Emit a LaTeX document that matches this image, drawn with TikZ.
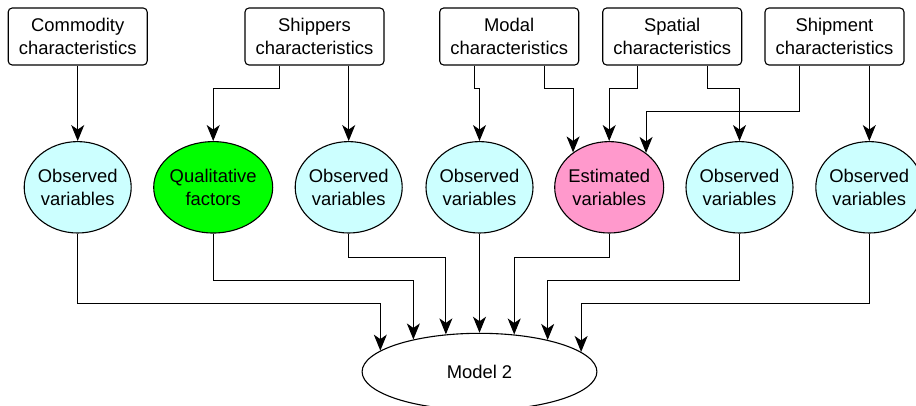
\documentclass[tikz,border=0pt]{standalone}
\usepackage{fontspec}
\setmainfont{Liberation Sans}
\usetikzlibrary{arrows.meta,shapes.geometric}
\definecolor{obscyan}{HTML}{CCFFFF}
\definecolor{qualgreen}{HTML}{00FF00}
\definecolor{estpink}{HTML}{FF99CC}
\begin{document}
\begin{tikzpicture}[x=1pt,y=-1pt,
  txt/.style={font=\fontsize{18.4}{22.6}\selectfont, align=center},
  charbox/.style={draw, rounded corners=4pt, line width=1.1pt, minimum width=139pt, minimum height=57pt, inner sep=0pt, txt},
  varell/.style={draw, ellipse, line width=1.1pt, minimum height=91.4pt, inner sep=0pt},
  obs/.style={varell, fill=obscyan, minimum width=107pt, label={[txt]center:Observed\\variables}},
  conn/.style={line width=1.1pt, -{Stealth[length=16pt,width=13pt,inset=4.5pt]}},
]
\useasboundingbox (0,0) rectangle (916,405);

% top characteristic boxes
\node[charbox] (comm)  at (77.7,36.5)  {Commodity\\characteristics};
\node[charbox] (ship)  at (314.5,36.5) {Shippers\\characteristics};
\node[charbox] (modal) at (509.2,36.5) {Modal\\characteristics};
\node[charbox] (spat)  at (672.2,36.5) {Spatial\\characteristics};
\node[charbox] (shipm) at (834.5,36.5) {Shipment\\characteristics};

% variable ellipses
\node[obs] (o1) at (77.7,187.3) {};
\node[varell, fill=qualgreen, minimum width=119pt, label={[txt]center:Qualitative\\factors}] (qual) at (213.2,187.3) {};
\node[obs] (o3) at (348.7,187.3) {};
\node[obs] (o4) at (479.5,187.3) {};
\node[varell, fill=estpink, minimum width=109pt, label={[txt]center:Estimated\\variables}] (est) at (609.2,187.3) {};
\node[obs] (o6) at (739.5,187.3) {};
\node[obs] (o7) at (869.3,187.3) {};

% model
\node[varell, minimum width=234.8pt, minimum height=76.8pt, txt] (model) at (479.5,371.7) {Model 2};

% top connectors
\draw[conn] (comm.south -| o1.north) -- (o1.north);
\draw[conn] ([xshift=-35pt]ship.south) -- ++(0,22.7) -| (qual.north);
\draw[conn] (ship.south -| o3.north) -- (o3.north);
\draw[conn] ([xshift=-35pt]modal.south) -- ++(0,22.7) -| (o4.north);
\draw[conn] ([xshift=35pt]modal.south) -- ++(0,22.7) -| (est.136.38);
\draw[conn] ([xshift=-35pt]spat.south) -- ++(0,22.7) -| (est.north);
\draw[conn] ([xshift=35pt]spat.south) -- ++(0,22.7) -| (o6.north);
\draw[conn] ([xshift=-35pt]shipm.south) -- ++(0,45.7) -| (est.43.62);
\draw[conn] (shipm.south -| o7.north) -- (o7.north);

% bottom connectors
\draw[conn] (o1.south) -- ++(0,69.7) -| (model.168.83);
\draw[conn] (qual.south) -- ++(0,47) -| (model.154.8);
\draw[conn] (o3.south) -- ++(0,23.7) -| (model.132.31);
\draw[conn] (o4.south) -- (model.north);
\draw[conn] (est.south) -- ++(0,23.7) -| (model.47.69);
\draw[conn] (o6.south) -- ++(0,47) -| (model.25.2);
\draw[conn] (o7.south) -- ++(0,69.7) -| (model.11.17);
\end{tikzpicture}
\end{document}
